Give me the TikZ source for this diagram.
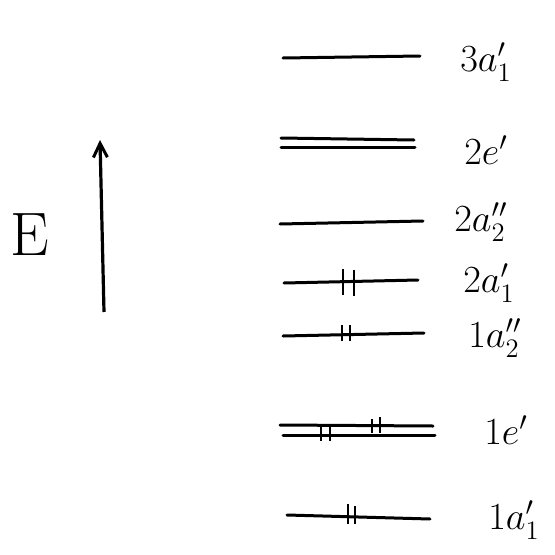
\documentclass[tikz,border=0pt]{standalone}
\usetikzlibrary{arrows.meta}
\begin{document}
\begin{tikzpicture}[x=1pt,y=-1pt,
  lvl/.style={line width=3pt,line cap=round},
  elec/.style={line width=2.2pt},
  lab/.style={font=\huge,scale=1.85,anchor=west,inner sep=0pt},
  axis/.style={line width=3.2pt,-{Straight Barb[length=14pt,width=14pt,line width=3pt]}}]
\useasboundingbox (0,0) rectangle (555,555);
% levels
\coordinate (a3L) at (283,58); \coordinate (a3R) at (420,56);
\coordinate (e2uL) at (281,138); \coordinate (e2uR) at (414,140);
\coordinate (e2lL) at (281,147); \coordinate (e2lR) at (415,147);
\coordinate (a22L) at (280,224); \coordinate (a22R) at (423,221);
\coordinate (a21L) at (284,283); \coordinate (a21R) at (418,280);
\coordinate (a12L) at (283,336); \coordinate (a12R) at (424,333);
\coordinate (e1uL) at (280,425); \coordinate (e1uR) at (433,426);
\coordinate (e1lL) at (283,435); \coordinate (e1lR) at (435,435);
\coordinate (a11L) at (287,515); \coordinate (a11R) at (430,519);
\draw[lvl] (a3L) -- (a3R);
\draw[lvl] (e2uL) -- (e2uR);
\draw[lvl] (e2lL) -- (e2lR);
\draw[lvl] (a22L) -- (a22R);
\draw[lvl] (a21L) -- (a21R);
\draw[lvl] (a12L) -- (a12R);
\draw[lvl] (e1uL) -- (e1uR);
\draw[lvl] (e1lL) -- (e1lR);
\draw[lvl] (a11L) -- (a11R);
% electrons
\foreach \x/\y/\h in {343/282/13, 354/283/13, 342/333/8, 350/333/8,
  372/426/7, 380/425/8, 321/434/7, 330/434/7, 348/514/10, 355/515/9}
  \draw[elec] (\x,\y-\h) -- (\x,\y+\h);
% axis
\coordinate (axB) at (104,312);
\coordinate (axT) at (100,140);
\draw[axis] (axB) -- (axT);
\node[lab,scale=1.6] (E) at (10,235) {E};
% labels
\node[lab] (l1) at (460,62) {$3a_1'$};
\node[lab] (l2) at (464,150) {$2e'$};
\node[lab] (l3) at (454,222) {$2a_2''$};
\node[lab] (l4) at (463,283) {$2a_1'$};
\node[lab] (l5) at (468,338) {$1a_2''$};
\node[lab] (l6) at (484,430) {$1e'$};
\node[lab] (l7) at (488,520) {$1a_1'$};
\end{tikzpicture}
\end{document}
